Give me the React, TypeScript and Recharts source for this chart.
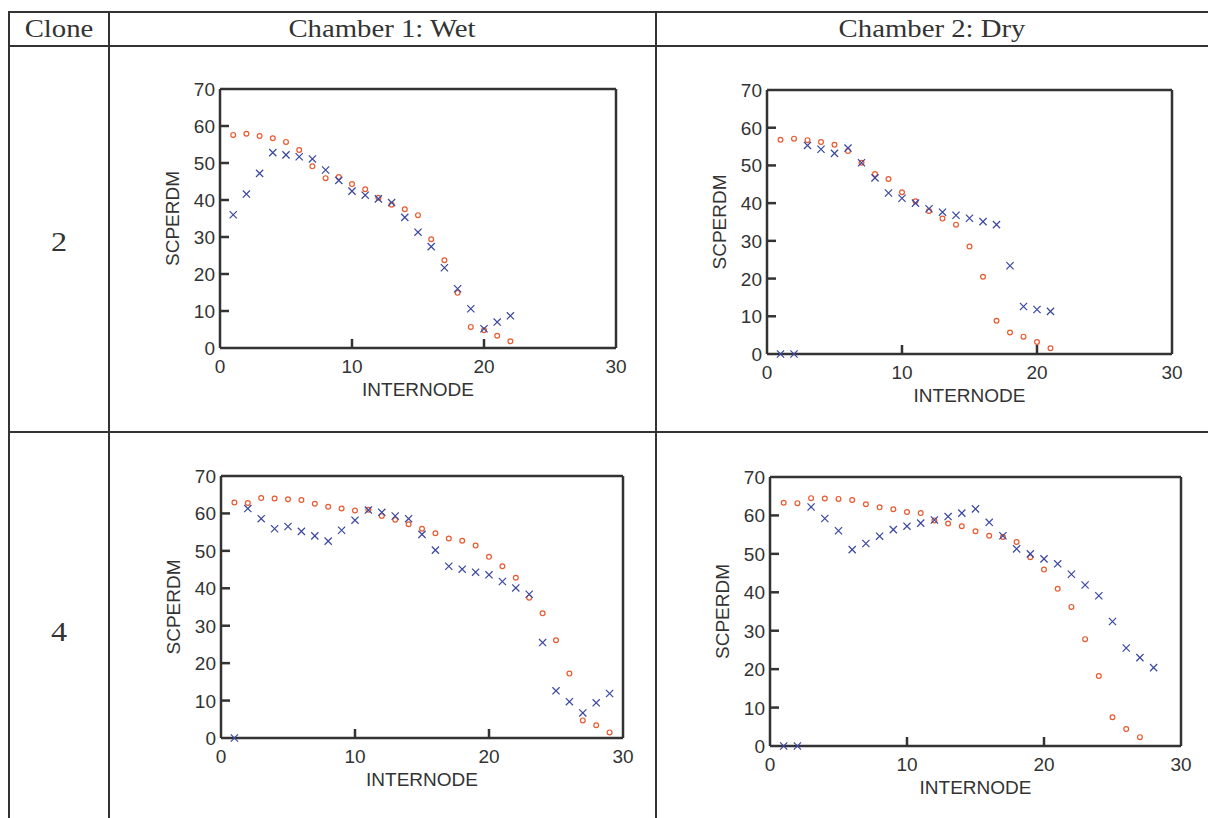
import React from "react";
import { ScatterChart, Scatter, XAxis, YAxis } from "recharts";

const xTicks = [0, 10, 20, 30];
const yTicks = [0, 10, 20, 30, 40, 50, 60, 70];
const innerXTicks = [10, 20];
const innerYTicks = [10, 20, 30, 40, 50, 60];

// values read per internode, starting at internode 1
const wet2Circles = [57.6, 57.9, 57.3, 56.7, 55.7, 53.5, 49.1, 45.9, 46.2, 44.3, 42.9, 40.6, 38.7, 37.5, 35.9, 29.4, 23.7, 14.9, 5.7, 4.8, 3.3, 1.8];
const wet2Crosses = [36.0, 41.6, 47.2, 52.8, 52.2, 51.7, 51.1, 48.1, 45.3, 42.4, 41.3, 40.3, 39.3, 35.3, 31.3, 27.4, 21.7, 16.0, 10.6, 5.2, 7.0, 8.7];
const dry2Circles = [56.8, 57.1, 56.7, 56.2, 55.5, 53.8, 50.7, 47.7, 46.4, 42.9, 40.5, 37.9, 35.9, 34.3, 28.5, 20.5, 8.8, 5.7, 4.6, 3.2, 1.5];
const dry2Crosses = [0, 0, 55.3, 54.3, 53.2, 54.6, 50.7, 46.7, 42.7, 41.3, 40.0, 38.5, 37.6, 36.8, 36.0, 35.1, 34.3, 23.4, 12.6, 11.8, 11.3];
const wet4Circles = [62.9, 62.8, 64.1, 64.0, 63.8, 63.6, 62.6, 61.8, 61.3, 60.8, 61.0, 59.3, 58.3, 57.1, 55.9, 54.7, 53.3, 52.7, 51.4, 48.4, 45.9, 42.8, 37.5, 33.3, 26.1, 17.2, 4.7, 3.4, 1.5];
const wet4Crosses = [0, 61.3, 58.6, 55.9, 56.5, 55.2, 54.0, 52.6, 55.5, 58.2, 60.9, 60.3, 59.3, 58.6, 54.4, 50.2, 45.9, 45.1, 44.3, 43.6, 41.8, 40.1, 38.4, 25.5, 12.6, 9.7, 6.7, 9.4, 11.9];
const dry4Circles = [63.3, 63.2, 64.5, 64.4, 64.3, 64.0, 62.9, 62.1, 61.6, 60.9, 60.6, 58.7, 57.9, 57.2, 55.9, 54.7, 54.4, 53.1, 49.1, 45.9, 40.9, 36.2, 27.8, 18.2, 7.5, 4.4, 2.3];
const dry4Crosses = [0, 0, 62.2, 59.2, 56.0, 51.1, 52.7, 54.6, 56.3, 57.2, 58.0, 58.8, 59.7, 60.6, 61.7, 58.2, 54.7, 51.3, 50.0, 48.7, 47.4, 44.7, 41.9, 39.1, 32.4, 25.5, 23.0, 20.4];

const AXIS = "#333";
const RED = "#ea5a2f";
const BLUE = "#3a47a0";
const SANS = "'Liberation Sans', Arial, sans-serif";
const SERIF = "'Liberation Serif', 'Times New Roman', serif";
const TICK_LEN = 9;
const Y_AXIS_W = 96;
const X_AXIS_H = 82;
const PAD = 10;

const toPoints = (vals: number[]) => vals.map((v, i) => ({ x: i + 1, y: v }));

const BottomTick = ({ x, y, payload }: any) => (
  <g>
    {innerXTicks.includes(payload.value) && (
      <line x1={x} x2={x} y1={y} y2={y - TICK_LEN} stroke={AXIS} strokeWidth={2.5} />
    )}
    <text x={x} y={y + 25} textAnchor="middle" fontSize={19} fontFamily={SANS} fill="#333">
      {payload.value}
    </text>
  </g>
);

const LeftTick = ({ x, y, payload }: any) => (
  <g>
    {innerYTicks.includes(payload.value) && (
      <line x1={x} x2={x + TICK_LEN} y1={y} y2={y} stroke={AXIS} strokeWidth={2.5} />
    )}
    <text x={x - 5} y={y + 7} textAnchor="end" fontSize={19} fontFamily={SANS} fill="#333">
      {payload.value}
    </text>
  </g>
);

const TopTick = ({ x, y }: any) => (
  <line x1={x} x2={x} y1={y} y2={y + TICK_LEN} stroke={AXIS} strokeWidth={2.5} />
);

const RightTick = ({ x, y }: any) => (
  <line x1={x} x2={x - TICK_LEN} y1={y} y2={y} stroke={AXIS} strokeWidth={2.5} />
);

const Circle = (p: any) => (
  <circle cx={p.cx} cy={p.cy} r={2.4} fill="none" stroke={RED} strokeWidth={1.2} />
);

const Cross = (p: any) => {
  const s = 3.6;
  return (
    <path
      d={`M${p.cx - s},${p.cy - s}L${p.cx + s},${p.cy + s}M${p.cx - s},${p.cy + s}L${p.cx + s},${p.cy - s}`}
      stroke={BLUE}
      strokeWidth={1.2}
      fill="none"
    />
  );
};

type Box = { x: number; y: number; w: number; h: number };

function Panel({ box, circles, crosses }: { box: Box; circles: number[]; crosses: number[] }) {
  const width = PAD + Y_AXIS_W + box.w + PAD + PAD;
  const height = PAD + PAD + box.h + X_AXIS_H + PAD;
  const axisLine = { stroke: AXIS, strokeWidth: 2.5 };
  return (
    <div style={{ position: "absolute", left: box.x - PAD - Y_AXIS_W, top: box.y - PAD - PAD }}>
      <ScatterChart width={width} height={height} margin={{ top: PAD, right: PAD, bottom: PAD, left: PAD }}>
        <XAxis
          xAxisId="b"
          type="number"
          dataKey="x"
          domain={[0, 30]}
          ticks={xTicks}
          height={X_AXIS_H}
          axisLine={axisLine}
          tickLine={false}
          tickSize={0}
          tickMargin={0}
          tick={<BottomTick />}
          label={{ value: "INTERNODE", position: "center", fontSize: 19, fontFamily: SANS, fill: "#333" }}
        />
        <XAxis
          xAxisId="t"
          orientation="top"
          type="number"
          domain={[0, 30]}
          ticks={innerXTicks}
          height={PAD}
          axisLine={axisLine}
          tickLine={false}
          tickSize={0}
          tickMargin={0}
          tick={<TopTick />}
        />
        <YAxis
          yAxisId="l"
          type="number"
          dataKey="y"
          domain={[0, 70]}
          ticks={yTicks}
          width={Y_AXIS_W}
          axisLine={axisLine}
          tickLine={false}
          tickSize={0}
          tickMargin={0}
          tick={<LeftTick />}
          label={{ value: "SCPERDM", angle: -90, position: "center", fontSize: 19, fontFamily: SANS, fill: "#333" }}
        />
        <YAxis
          yAxisId="r"
          orientation="right"
          type="number"
          domain={[0, 70]}
          ticks={innerYTicks}
          width={PAD}
          axisLine={axisLine}
          tickLine={false}
          tickSize={0}
          tickMargin={0}
          tick={<RightTick />}
        />
        <Scatter xAxisId="b" yAxisId="l" data={toPoints(circles)} shape={Circle} isAnimationActive={false} />
        <Scatter xAxisId="b" yAxisId="l" data={toPoints(crosses)} shape={Cross} isAnimationActive={false} />
      </ScatterChart>
    </div>
  );
}

const line = (left: number, top: number, width: number, height: number) => (
  <div style={{ position: "absolute", left, top, width, height, background: "#333" }} />
);

const cellText = (text: string, cx: number, cy: number, size: number) => (
  <div
    style={{
      position: "absolute",
      left: cx - 200,
      top: cy - size,
      width: 400,
      height: size * 2,
      lineHeight: `${size * 2}px`,
      textAlign: "center",
      fontFamily: SERIF,
      fontSize: size,
      color: "#333",
      transform: "scaleX(1.15)",
    }}
  >
    {text}
  </div>
);

export default function App() {
  return (
    <div style={{ position: "absolute", left: 0, top: 0, width: 1208, height: 818, background: "#fff", overflow: "hidden" }}>
      {line(9, 11, 1199, 2)}
      {line(9, 45, 1199, 2)}
      {line(9, 431, 1199, 2)}
      {line(8, 11, 2, 807)}
      {line(108, 11, 2, 807)}
      {line(655, 11, 2, 807)}
      {cellText("Clone", 59, 29, 25)}
      {cellText("Chamber 1: Wet", 382, 29, 25)}
      {cellText("Chamber 2: Dry", 932, 29, 25)}
      {cellText("2", 59, 242, 28)}
      {cellText("4", 59, 632, 28)}
      <Panel box={{ x: 220, y: 89, w: 396, h: 259 }} circles={wet2Circles} crosses={wet2Crosses} />
      <Panel box={{ x: 767, y: 90, w: 405, h: 264 }} circles={dry2Circles} crosses={dry2Crosses} />
      <Panel box={{ x: 221, y: 476, w: 402, h: 262 }} circles={wet4Circles} crosses={wet4Crosses} />
      <Panel box={{ x: 770, y: 477, w: 411, h: 269 }} circles={dry4Circles} crosses={dry4Crosses} />
    </div>
  );
}
